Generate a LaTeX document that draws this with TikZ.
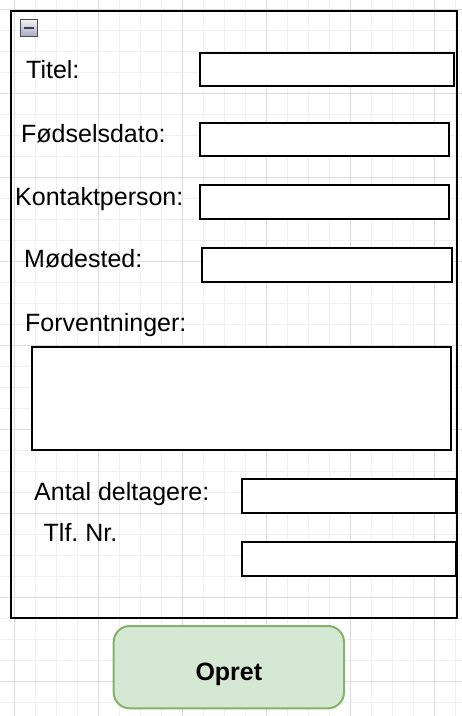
\documentclass[tikz,border=0pt]{standalone}
\usepackage{fontspec}
\setmainfont{Liberation Sans}
\definecolor{verdefondo}{HTML}{D5E8D4}
\definecolor{verdebordo}{HTML}{82B366}
\tikzset{
  campo/.style={draw, line width=2pt, fill=white, inner sep=0pt, anchor=north west},
  etichetta/.style={anchor=base west, inner sep=0pt, font=\fontsize{25}{30}\selectfont},
}
\begin{document}
\begin{tikzpicture}[x=1pt,y=-1pt]
        \useasboundingbox (0,0) rectangle (462,716);

        % Disegna la griglia
        \foreach \gx in {0,...,21} \draw[gray!12] (14.3+21*\gx,0) -- (14.3+21*\gx,716);
        \foreach \gy in {0,...,33} \draw[gray!12] (0,9+21*\gy) -- (462,9+21*\gy);
        \foreach \gx in {0,...,5} \draw[gray!28] (14.3+84*\gx,0) -- (14.3+84*\gx,716);
        \foreach \gy in {0,...,8} \draw[gray!28] (0,9+84*\gy) -- (462,9+84*\gy);

        % Disegna il pannello
        \node[draw, line width=2pt, inner sep=0pt, anchor=north west,
              minimum width=446pt, minimum height=607pt] (pannello) at (10,10) {};
        \node[draw=black!70, line width=1pt, inner sep=0pt, minimum size=17pt,
              top color=gray!10, bottom color=blue!25!gray!55] (chiudi) at (28.5,28) {};
        \draw[line width=2.5pt, black!75] ([xshift=4pt]chiudi.west) -- ([xshift=-4pt]chiudi.east);

        % Disegna le etichette
        \node[etichetta] (titel) at (26,78.3) {Titel:};
        \node[etichetta] (foedsel) at (21,142.7) {Fødselsdato:};
        \node[etichetta] (kontakt) at (15,205) {Kontaktperson:};
        \node[etichetta] (moede) at (24,267.7) {Mødested:};
        \node[etichetta] (forvent) at (25,331.7) {Forventninger:};
        \node[etichetta] (antal) at (34,500) {Antal deltagere:};
        \node[etichetta] (tlf) at (43.5,541.7) {Tlf.\ Nr.};

        % Disegna i campi
        \node[campo, minimum width=253.7pt, minimum height=33pt] (titelfelt) at (199,52) {};
        \node[campo, minimum width=249pt, minimum height=33pt] (foedselfelt) at (199,121.7) {};
        \node[campo, minimum width=249.6pt, minimum height=33.7pt] (kontaktfelt) at (198.7,184.3) {};
        \node[campo, minimum width=249.7pt, minimum height=34.3pt] (moedefelt) at (201,247) {};
        \node[campo, minimum width=419pt, minimum height=103pt] (forventfelt) at (31,346) {};
        \node[campo, minimum width=213.7pt, minimum height=33.4pt] (antalfelt) at (241,478.3) {};
        \node[campo, minimum width=213.7pt, minimum height=33.7pt] (tlffelt) at (241,541) {};

        % Disegna il pulsante
        \node[draw=verdebordo, fill=verdefondo, line width=2pt, rounded corners=16pt,
              anchor=north west, minimum width=230.3pt, minimum height=82.3pt,
              text height=26pt, text depth=0pt,
              font=\fontsize{25}{30}\selectfont\bfseries] (opret) at (112.7,625) {Opret};

    \end{tikzpicture}
\end{document}
